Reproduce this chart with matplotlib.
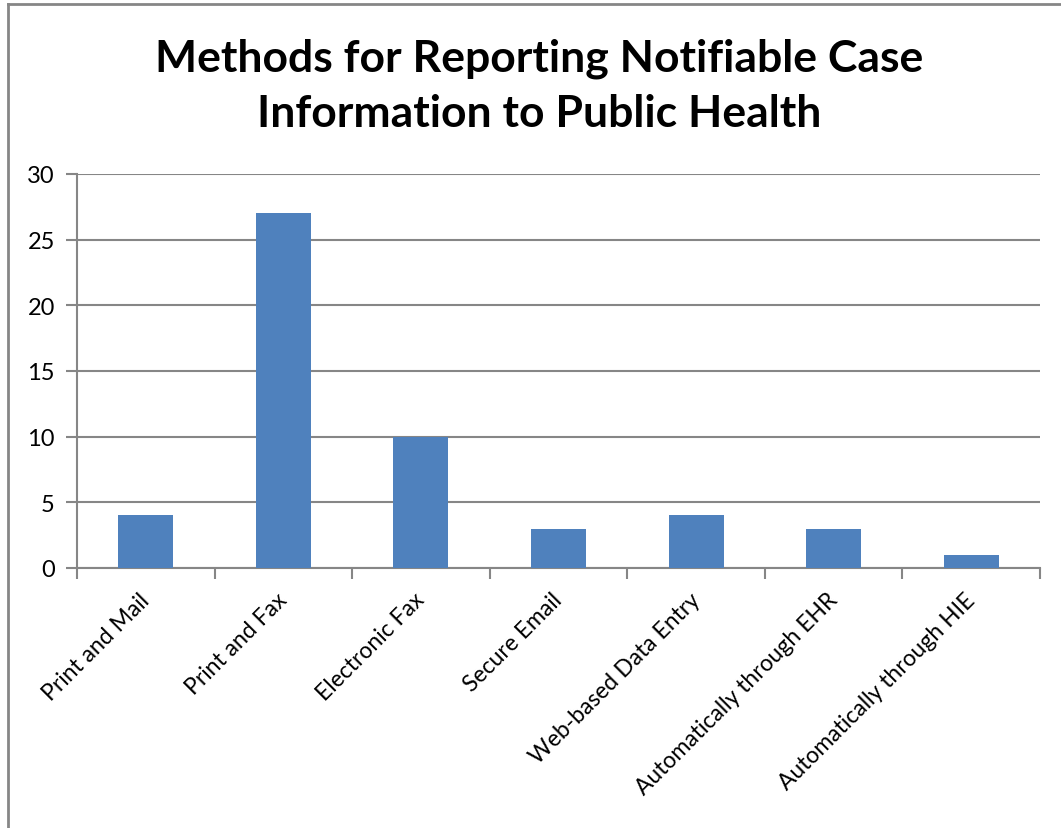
import matplotlib.pyplot as plt
from matplotlib.lines import Line2D

plt.rcParams['font.family'] = ['Lato', 'DejaVu Sans']

methods = ['Print and Mail', 'Print and Fax', 'Electronic Fax', 'Secure Email',
           'Web-based Data Entry', 'Automatically through EHR', 'Automatically through HIE']
counts = [4, 27, 10, 3, 4, 3, 1]
y_ticks = [0, 5, 10, 15, 20, 25, 30]

grey = '#868686'

fig = plt.figure(figsize=(10.61, 8.29), dpi=100)
ax = fig.add_axes([77 / 1061, 1 - 569 / 829, (1040 - 77) / 1061, (569 - 175) / 829])

x = list(range(len(methods)))
ax.bar(x, counts, width=0.4, color='#4F81BD', zorder=3)

ax.set_xlim(-0.5, len(methods) - 0.5)
ax.set_ylim(0, 30)
ax.set_yticks(y_ticks)
ax.tick_params(axis='y', length=8, width=1.5, color=grey, labelsize=17, pad=8)
ax.yaxis.grid(True, color=grey, linewidth=1.5, zorder=0)

# category ticks sit between the bars, labels at bar centres
ax.set_xticks([i - 0.5 for i in range(len(methods) + 1)])
ax.set_xticklabels([])
ax.tick_params(axis='x', length=8, width=1.5, color=grey)
for i, name in enumerate(methods):
    ax.annotate(name, xy=(i, 0), xycoords=('data', 'axes fraction'),
                xytext=(-5, -15), textcoords='offset points',
                rotation=45, ha='right', va='top', fontsize=16.5,
                rotation_mode='anchor')

for side in ['top', 'right']:
    ax.spines[side].set_visible(False)
ax.spines['left'].set_color(grey)
ax.spines['bottom'].set_color(grey)
ax.spines['left'].set_linewidth(1.5)
ax.spines['bottom'].set_linewidth(1.5)

fig.text(0.508, 1 - 86 / 829, 'Methods for Reporting Notifiable Case\nInformation to Public Health',
         ha='center', va='center', fontsize=32, fontweight='bold', linespacing=1.45)

# chart area border (left and top edges visible)
fig.add_artist(Line2D([8 / 1061, 8 / 1061], [0, 1 - 5 / 829], color=grey, linewidth=2,
                      transform=fig.transFigure))
fig.add_artist(Line2D([8 / 1061, 1], [1 - 5 / 829, 1 - 5 / 829], color=grey, linewidth=2,
                      transform=fig.transFigure))

fig.savefig('out.png', dpi=100)
